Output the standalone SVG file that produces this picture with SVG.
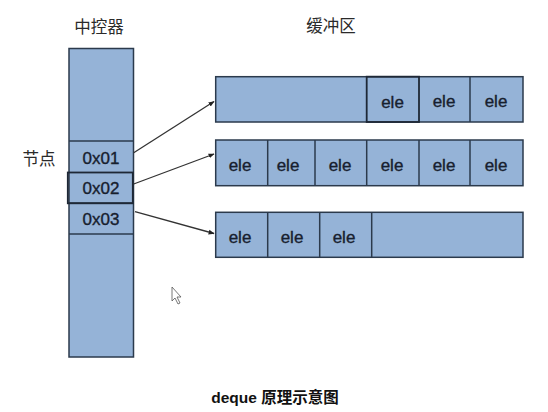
<svg xmlns="http://www.w3.org/2000/svg" width="548" height="412" viewBox="0 0 548 412">
<style>
.box{fill:#95b3d7;stroke:#2b3a4c;stroke-width:1.5}
.hl{fill:none;stroke:#1e2836;stroke-width:1.8}
.div{stroke:#2b3a4c;stroke-width:1.5}
.cell{font-family:"Liberation Sans",Arial,sans-serif;font-size:17px;fill:#17202e;stroke:#17202e;stroke-width:0.35;text-anchor:middle;dominant-baseline:central}
.lbl{font-family:"Noto Sans CJK SC",sans-serif;font-size:16.5px;fill:#2a2a2a;text-anchor:middle;dominant-baseline:central}
.title{font-family:"Liberation Sans","Noto Sans CJK SC",sans-serif;font-size:15.5px;font-weight:bold;fill:#111;text-anchor:middle;dominant-baseline:central}
.conn{stroke:#333;stroke-width:1.3;fill:none;marker-end:url(#ah)}
</style>
<defs>
<marker id="ah" viewBox="0 0 10 10" refX="9" refY="5" markerWidth="6" markerHeight="6" orient="auto" markerUnits="userSpaceOnUse">
<path d="M0,1 L10,5 L0,9 z" fill="#222"/>
</marker>
</defs>
<rect width="548" height="412" fill="#ffffff"/>
<text class="lbl" x="99" y="26">中控器</text>
<text class="lbl" x="331" y="25">缓冲区</text>
<text class="lbl" x="39" y="158">节点</text>

<g id="controller">
<rect class="box" x="69" y="48.5" width="64.5" height="308.5"/>
<line class="div" x1="69" y1="141" x2="133.5" y2="141"/>
<line class="div" x1="69" y1="203" x2="133.5" y2="203"/>
<line class="div" x1="69" y1="234" x2="133.5" y2="234"/>
</g>
<g id="node-0x01">
<text class="cell" x="101" y="158">0x01</text>
</g>
<g id="node-0x02">
<rect class="hl" x="67.8" y="172.5" width="65" height="30.8"/>
<text class="cell" x="101" y="188">0x02</text>
</g>
<g id="node-0x03">
<text class="cell" x="101" y="219">0x03</text>
</g>

<g id="buffer1">
<rect class="box" x="215.7" y="76.7" width="307.3" height="45.3"/>
<line class="div" x1="470" y1="76.7" x2="470" y2="122"/>
<rect class="hl" x="366.7" y="76.7" width="52.3" height="45.3"/>
<text class="cell" x="392.5" y="102">ele</text>
<text class="cell" x="444" y="101.5">ele</text>
<text class="cell" x="496" y="101.5">ele</text>
</g>
<g id="buffer2">
<rect class="box" x="215.7" y="140" width="307.3" height="45.7"/>
<line class="div" x1="267.7" y1="140" x2="267.7" y2="185.7"/>
<line class="div" x1="315" y1="140" x2="315" y2="185.7"/>
<line class="div" x1="366.7" y1="140" x2="366.7" y2="185.7"/>
<line class="div" x1="419" y1="140" x2="419" y2="185.7"/>
<line class="div" x1="470" y1="140" x2="470" y2="185.7"/>
<text class="cell" x="240" y="165">ele</text>
<text class="cell" x="288" y="165">ele</text>
<text class="cell" x="340" y="165">ele</text>
<text class="cell" x="392" y="165">ele</text>
<text class="cell" x="444" y="165">ele</text>
<text class="cell" x="496" y="165">ele</text>
</g>
<g id="buffer3">
<rect class="box" x="215.7" y="212.3" width="307.3" height="45"/>
<line class="div" x1="267.7" y1="212.3" x2="267.7" y2="257.3"/>
<line class="div" x1="319.7" y1="212.3" x2="319.7" y2="257.3"/>
<line class="div" x1="371.7" y1="212.3" x2="371.7" y2="257.3"/>
<text class="cell" x="240" y="237">ele</text>
<text class="cell" x="292" y="237">ele</text>
<text class="cell" x="344" y="237">ele</text>
</g>

<g id="connectors">
<line class="conn" x1="133.7" y1="152.7" x2="214" y2="101.5"/>
<line class="conn" x1="133.7" y1="184" x2="214" y2="154"/>
<line class="conn" x1="135" y1="211.7" x2="214" y2="233.5"/>
</g>

<path d="M172,287 L172,301 L175,298 L178,304 L180,303 L177,297 L181,297 Z" fill="#fff" stroke="#555" stroke-width="0.8"/>

<text class="title" x="275" y="397">deque 原理示意图</text>
</svg>
